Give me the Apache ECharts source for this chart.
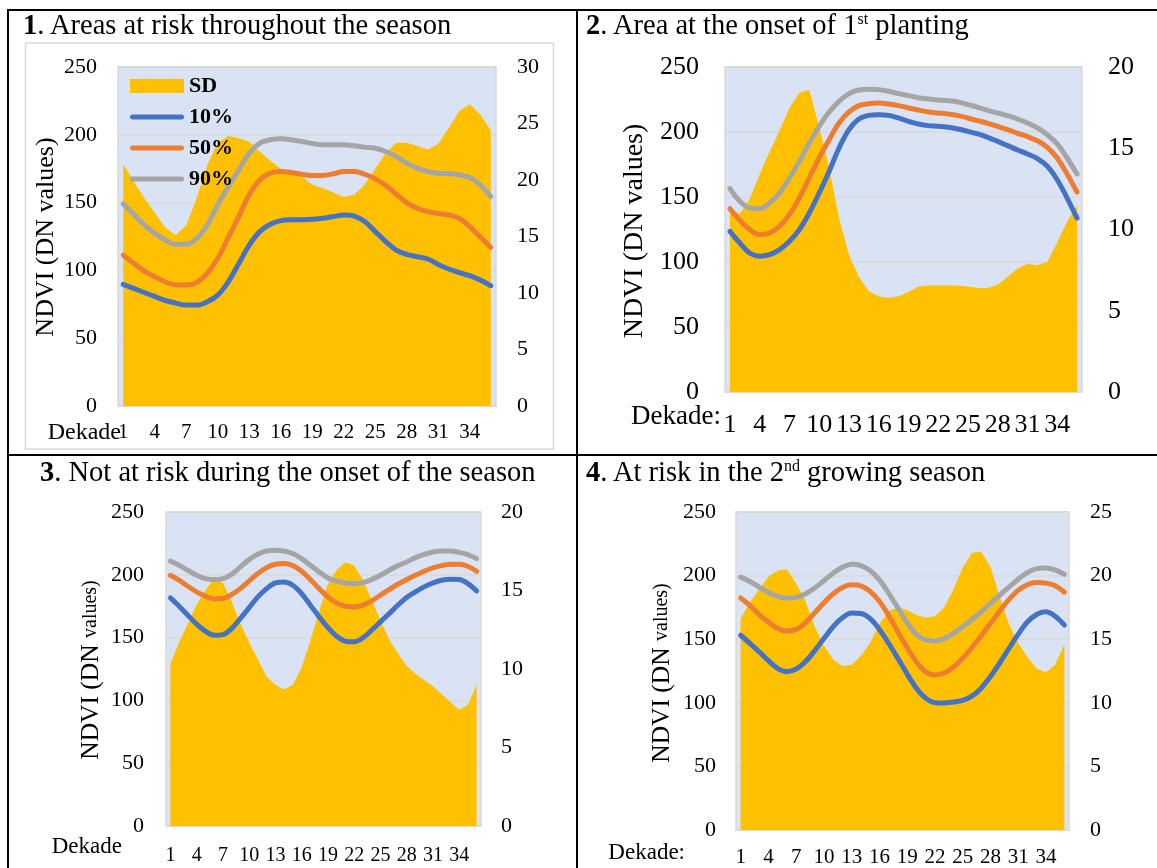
<!DOCTYPE html>
<html>
<head>
<meta charset="utf-8">
<title>NDVI percentiles and SD per dekade</title>
<script src="https://cdn.jsdelivr.net/npm/echarts@6/dist/echarts.min.js"></script>
<style>
  html, body { margin: 0; padding: 0; background: #fff; }
  #page { position: relative; width: 1157px; height: 868px; overflow: hidden;
          font-family: 'Liberation Serif', serif; color: #000; }
  #chart { position: absolute; left: 0; top: 0; width: 1157px; height: 868px; }
  .rule { position: absolute; background: #000; }
  .title { position: absolute; font-size: 28.5px; line-height: 28.5px; white-space: nowrap; }
  .title sup { font-size: 16px; line-height: 0; vertical-align: 10px; }
</style>
</head>
<body>
<div id="page">
  <div id="chart"></div>
  <!-- table rules -->
  <div class="rule" style="left:7px;top:9px;width:1160px;height:2px"></div>
  <div class="rule" style="left:7px;top:9px;width:2px;height:870px"></div>
  <div class="rule" style="left:576px;top:9px;width:2px;height:870px"></div>
  <div class="rule" style="left:7px;top:454px;width:1160px;height:2px"></div>
  <!-- panel titles -->
  <div class="title" style="left:23px;top:11px"><b>1</b>. Areas at risk throughout the season</div>
  <div class="title" style="left:586px;top:11px"><b>2</b>. Area at the onset of 1<sup>st</sup> planting</div>
  <div class="title" style="left:40px;top:458px"><b>3</b>. Not at risk during the onset of the season</div>
  <div class="title" style="left:586px;top:458px"><b>4</b>. At risk in the 2<sup>nd</sup> growing season</div>
</div>
<script>
// Dekades of the year (x categories)
const dekades = ['1','2','3','4','5','6','7','8','9','10','11','12','13','14','15','16','17','18',
                 '19','20','21','22','23','24','25','26','27','28','29','30','31','32','33','34','35','36'];

// 1. Areas at risk throughout the season
const sd1   = [21.4,19.9,18.4,17.1,15.8,15.1,16.0,18.4,21.3,23.3,23.9,23.7,23.4,22.5,21.7,21.0,20.8,20.3,
               19.6,19.3,18.9,18.5,18.7,19.6,21.0,22.4,23.3,23.3,23.0,22.7,23.2,24.6,26.1,26.7,25.8,24.4];
const p10_1 = [89.7,86.7,83.7,80.8,77.8,75.9,74.4,74.4,76.8,81.8,91.6,105.0,118.7,128.6,134.0,136.7,137.4,137.4,
               137.7,138.4,139.7,140.9,140.1,136.0,128.6,121.2,115.0,111.8,110.1,108.4,104.4,101.0,98.3,96.1,92.9,88.7];
const p50_1 = [111.3,105.2,99.5,95.3,91.6,89.2,89.2,91.1,97.8,108.9,124.1,139.7,155.7,166.7,171.7,172.9,172.2,170.9,
               170.0,170.0,171.2,172.9,172.9,170.9,167.5,162.6,156.2,150.0,145.8,143.3,141.9,140.9,138.4,132.3,124.6,117.0];
const p90_1 = [149.0,141.4,133.5,127.3,122.4,119.2,119.2,123.6,133.5,148.3,161.8,174.1,186.5,193.8,196.3,197.0,196.3,195.1,
               193.6,192.6,192.6,192.6,191.9,190.9,190.1,187.7,184.0,179.1,175.4,172.9,171.7,171.4,170.4,168.5,163.1,154.4];

// 2. Area at the onset of 1st planting
const sd2   = [11.3,10.95,11.9,13.4,14.8,16.1,17.5,18.4,18.6,16.3,13.8,10.7,8.45,7.1,6.2,5.9,5.8,5.9,
               6.15,6.5,6.55,6.55,6.55,6.55,6.5,6.4,6.4,6.6,7.1,7.6,7.9,7.8,8.0,9.2,10.5,11.5];
const p10_2 = [123.6,114.6,106.9,104.4,105.6,109.5,115.9,124.9,137.7,153.1,169.7,187.7,201.8,210.0,212.8,213.3,212.8,210.8,
               208.2,206.2,204.9,204.4,203.6,202.3,200.5,198.5,195.9,192.8,189.5,186.2,183.1,179.5,173.6,163.3,149.2,133.8];
const p50_2 = [141.0,132.0,124.9,121.0,122.3,127.4,136.4,149.2,164.6,180.0,194.1,206.9,215.4,220.3,221.8,222.3,221.5,220.3,
               218.5,216.9,215.4,214.6,213.8,212.6,210.8,208.7,206.7,204.4,201.8,199.0,196.4,193.3,188.2,180.0,167.7,153.8];
const p90_2 = [156.4,146.7,141.5,141.0,145.4,153.1,164.6,177.4,191.5,204.4,215.4,223.6,229.5,232.3,232.8,232.6,231.3,229.5,
               228.0,226.4,225.4,224.6,224.1,223.1,221.0,219.0,216.7,214.6,212.6,210.0,206.9,203.1,197.9,190.8,180.0,167.7];

// 3. Not at risk during the onset of the season
const sd3   = [10.35,11.7,12.9,14.1,15.0,15.8,15.5,14.3,12.9,11.7,10.6,9.5,9.0,8.7,9.0,10.1,11.8,13.7,
               15.4,16.3,16.8,16.6,15.7,14.4,13.1,11.9,11.0,10.2,9.7,9.3,8.9,8.4,7.9,7.4,7.7,9.0];
const p10_3 = [181.6,175.0,167.8,160.7,155.1,151.9,152.4,157.2,165.2,173.9,182.4,189.0,193.5,194.3,191.7,185.0,175.8,166.5,
               158.0,151.1,147.1,146.6,149.8,155.9,162.5,169.1,175.8,181.9,186.4,190.4,193.5,195.7,196.4,196.2,193.0,187.2];
const p50_3 = [199.6,195.7,190.9,186.4,182.9,180.8,181.1,184.3,189.0,195.1,201.0,205.7,208.4,208.9,207.3,202.8,196.2,189.0,
               182.4,177.6,175.0,174.4,175.8,179.2,183.7,188.2,192.5,196.2,199.6,202.8,205.5,207.3,208.4,208.4,206.8,202.8];
const p90_3 = [211.0,207.6,203.6,199.6,197.0,196.2,197.0,200.4,206.3,212.1,216.3,219.0,219.5,219.0,216.9,212.9,207.6,202.3,
               197.5,194.9,193.5,193.0,193.8,196.2,199.6,203.6,207.3,210.2,213.7,216.3,218.2,219.0,219.0,217.9,216.1,212.9];

// 4. At risk in the 2nd growing season
const sd4   = [16.6,17.9,18.9,19.9,20.4,20.5,19.4,18.0,16.0,14.5,13.4,12.9,13.0,13.7,14.7,16.2,17.2,17.5,
               17.3,16.9,16.7,16.8,17.5,18.9,20.6,21.8,21.9,20.7,18.4,16.2,14.7,13.6,12.7,12.4,13.0,14.6];
const p10_4 = [153.1,146.8,140.1,133.1,127.1,124.5,126.6,132.3,140.9,150.5,159.8,166.8,170.5,170.2,166.1,157.7,146.8,134.9,
               122.7,111.5,103.7,100.1,99.8,100.6,101.9,105.2,111.5,120.6,131.2,142.7,153.8,163.5,169.4,171.5,168.1,161.1];
const p50_4 = [182.4,176.5,169.4,163.5,158.5,156.4,157.7,162.9,170.7,178.5,185.6,190.7,192.8,192.0,187.6,179.8,168.7,155.9,
               143.4,132.3,124.5,121.9,123.4,127.9,134.9,143.5,152.5,162.4,172.0,181.1,188.4,192.8,194.6,194.1,192.0,186.9];
const p90_4 = [198.8,195.4,191.0,186.9,183.7,182.4,182.9,185.6,190.2,196.0,201.9,206.6,208.9,207.9,204.0,196.7,186.3,174.6,
               162.9,153.8,149.4,148.6,150.5,154.6,159.8,165.5,171.5,178.0,184.5,191.0,197.2,202.4,205.5,206.0,204.5,200.9];

// Axis scales
const ndviMax = 250;
const ndviStep = 50;
const sdMax = [30, 20, 20, 25];
const sdStep = 5;

const FONT = 'Liberation Serif';
const GOLD = '#FFC000', BLUE = '#4472C4', ORANGE = '#ED7D31', GREY = '#A5A5A5';
const PLOT_BG = '#DAE3F3', GRID_LINE = '#D9D9D9';

// Panel layout (pixels) and text sizes
const panels = [
  { grid: { left: 118, top: 67, width: 378, height: 339 }, sd: sd1, p10: p10_1, p50: p50_1, p90: p90_1,
    yFont: 22, mL: 21, mR: 21, xFont: 21, xMargin: 16 },
  { grid: { left: 725, top: 67, width: 357, height: 325 }, sd: sd2, p10: p10_2, p50: p50_2, p90: p90_2,
    yFont: 26, mL: 26, mR: 26, xFont: 26, xMargin: 20 },
  { grid: { left: 166, top: 512, width: 315, height: 314 }, sd: sd3, p10: p10_3, p50: p50_3, p90: p90_3,
    yFont: 22, mL: 22, mR: 20, xFont: 20, xMargin: 20 },
  { grid: { left: 736, top: 512, width: 333, height: 320 }, sd: sd4, p10: p10_4, p50: p50_4, p90: p90_4,
    yFont: 22, mL: 20, mR: 21, xFont: 21, xMargin: 17 }
];

const grids = [], xAxes = [], yAxes = [], series = [];
panels.forEach((p, i) => {
  grids.push(Object.assign({ show: true, backgroundColor: PLOT_BG, borderColor: GRID_LINE, borderWidth: 1.5 }, p.grid));
  xAxes.push({
    type: 'category', gridIndex: i, data: dekades, boundaryGap: true,
    axisLine: { show: false }, axisTick: { show: false },
    axisLabel: { interval: 2, margin: p.xMargin, fontFamily: FONT, fontSize: p.xFont, color: '#000' }
  });
  yAxes.push({
    type: 'value', gridIndex: i, min: 0, max: ndviMax, interval: ndviStep,
    axisLine: { show: false }, axisTick: { show: false },
    axisLabel: { margin: p.mL, fontFamily: FONT, fontSize: p.yFont, color: '#000' },
    splitLine: { lineStyle: { color: GRID_LINE, width: 1.5 } }
  });
  yAxes.push({
    type: 'value', gridIndex: i, position: 'right', min: 0, max: sdMax[i], interval: sdStep,
    axisLine: { show: false }, axisTick: { show: false },
    axisLabel: { margin: p.mR, fontFamily: FONT, fontSize: p.yFont, color: '#000' },
    splitLine: { show: false }
  });
  series.push({
    name: 'SD', type: 'line', xAxisIndex: i, yAxisIndex: 2 * i + 1, data: p.sd,
    symbol: 'none', lineStyle: { width: 0 }, itemStyle: { color: GOLD },
    areaStyle: { color: GOLD, opacity: 1 }, z: 1
  });
  [['10%', p.p10, BLUE], ['50%', p.p50, ORANGE], ['90%', p.p90, GREY]].forEach(([name, data, color]) => {
    series.push({
      name, type: 'line', xAxisIndex: i, yAxisIndex: 2 * i, data,
      smooth: 0.35, symbol: 'none', itemStyle: { color },
      lineStyle: { color, width: 5, cap: 'round', join: 'round' }, z: 3
    });
  });
});

// Side labels: rotated NDVI titles and "Dekade" captions
function vText(x, y, text, rich) {
  return { type: 'text', x, y, rotation: Math.PI / 2, z: 10,
    style: { text, align: 'center', verticalAlign: 'middle', fill: '#000', rich } };
}
const nameBig = (s) => ({ a: { fontFamily: FONT, fontSize: s, fill: '#000' } });
const nameMixed = { a: { fontFamily: FONT, fontSize: 25.5, fill: '#000' },
                    b: { fontFamily: FONT, fontSize: 20, fill: '#000' } };
function hText(x, y, text, size) {
  return { type: 'text', x, y, z: 10,
    style: { text, align: 'right', verticalAlign: 'middle', fill: '#000', fontFamily: FONT, fontSize: size } };
}

const graphic = [
  { type: 'rect', shape: { x: 25.5, y: 43, width: 528, height: 406 }, z: -1,
    style: { fill: null, stroke: GRID_LINE, lineWidth: 1.5 } },
  vText(46, 237, '{a|NDVI (DN values)}', nameBig(26)),
  vText(635, 231, '{a|NDVI (DN values)}', nameBig(28)),
  vText(91, 670, '{a|NDVI (DN }{b|values)}', nameMixed),
  vText(662, 673, '{a|NDVI (DN }{b|values)}', nameMixed),
  hText(121, 433, 'Dekade', 24),
  hText(721, 417, 'Dekade:', 27),
  hText(122, 847, 'Dekade', 23),
  hText(685, 853, 'Dekade:', 23)
];

// Legend line swatch: a rounded bar, like a thick line with round caps
const LINE_ICON = 'path://M2.5,0 H51.5 A2.5,2.5 0 0 1 51.5,5 H2.5 A2.5,2.5 0 0 1 2.5,0 Z';

const chart = echarts.init(document.getElementById('chart'));
chart.setOption({
  animation: false,
  backgroundColor: 'transparent',
  grid: grids,
  xAxis: xAxes,
  yAxis: yAxes,
  series,
  graphic,
  legend: {
    left: 130, top: 75, padding: 0, orient: 'vertical', selectedMode: false,
    itemWidth: 54, itemHeight: 14, itemGap: 9, symbolKeepAspect: true,
    data: [
      { name: 'SD', icon: 'rect' },
      { name: '10%', icon: LINE_ICON },
      { name: '50%', icon: LINE_ICON },
      { name: '90%', icon: LINE_ICON }
    ],
    textStyle: { fontFamily: FONT, fontWeight: 'bold', fontSize: 22, color: '#000', lineHeight: 22 }
  }
});
</script>
</body>
</html>
